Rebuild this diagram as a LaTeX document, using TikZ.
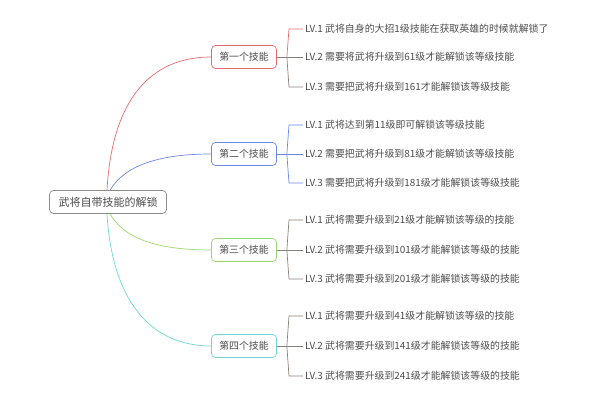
\documentclass[tikz,border=0pt]{standalone}
\usepackage{fontspec}
\setmainfont{Noto Sans CJK SC}
\begin{document}
\begin{tikzpicture}[x=1pt,y=-1pt,
  txt/.style={text=black!70,font=\fontsize{9.9}{11}\selectfont},
  box/.style={txt,draw=#1,rounded corners=4pt,line width=0.7pt,minimum height=23pt,inner xsep=6pt},
  leaf/.style={txt,anchor=west,inner xsep=2pt},
  br/.style={line width=0.7pt,draw=#1}]
\useasboundingbox (0,0) rectangle (608,406);
\node[box=black!45,minimum width=117pt,font=\fontsize{11}{12}\selectfont] (root) at (108,202) {武将自带技能的解锁};
\definecolor{c1}{HTML}{E86B6B}\definecolor{c2}{HTML}{6B87E8}\definecolor{c3}{HTML}{9AD86B}\definecolor{c4}{HTML}{6BD8D8}
\definecolor{gr}{HTML}{8A807A}
\node[box=c1,minimum width=65pt] (g1) at (244,57) {第一个技能};
\node[box=c2,minimum width=65pt] (g2) at (244,154) {第二个技能};
\node[box=c3,minimum width=65pt] (g3) at (244,250) {第三个技能};
\node[box=c4,minimum width=65pt] (g4) at (244,346) {第四个技能};
\draw[br=c1] (root.north) ++(-1,0) coordinate (r1) .. controls (112,100) and (150,57) .. (g1.west);
\draw[br=c2] (root.north) ++(2,0) coordinate (r2) .. controls (125,165) and (160,154) .. (g2.west);
\draw[br=c3] (root.south) ++(2,0) coordinate (r3) .. controls (125,240) and (160,250) .. (g3.west);
\draw[br=c4] (root.south) ++(-1,0) coordinate (r4) .. controls (112,300) and (150,346) .. (g4.west);
\foreach \g/\ya/\yb/\yc/\ca/\cb/\ta/\tb/\tc in {
 1/29/57/87/c1/gr/{LV.1 武将自身的大招1级技能在获取英雄的时候就解锁了}/{LV.2 需要将武将升级到61级才能解锁该等级技能}/{LV.3 需要把武将升级到161才能解锁该等级技能},
 2/125/154/183/c2/c2/{LV.1 武将达到第11级即可解锁该等级技能}/{LV.2 需要把武将升级到81级才能解锁该等级技能}/{LV.3 需要把武将升级到181级才能解锁该等级技能},
 3/220/250/279/gr/gr/{LV.1 武将需要升级到21级才能解锁该等级的技能}/{LV.2 武将需要升级到101级才能解锁该等级的技能}/{LV.3 武将需要升级到201级才能解锁该等级的技能},
 4/316/346/376/gr/gr/{LV.1 武将需要升级到41级才能解锁该等级的技能}/{LV.2 武将需要升级到141级才能解锁该等级的技能}/{LV.3 武将需要升级到241级才能解锁该等级的技能}}{
 \node[leaf] (l\g a) at (303,\ya) {\ta};
 \node[leaf] (l\g b) at (303,\yb) {\tb};
 \node[leaf] (l\g c) at (303,\yc) {\tc};
 \draw[br=\cb] (g\g.east) -- (l\g b.west);
 \draw[br=\ca] (g\g.east) ++(10,0) coordinate (s\g) -- (289,\ya) -- (l\g a.west);
 \draw[br=\cb] (s\g) -- (289,\yc) -- (l\g c.west);
}
\end{tikzpicture}
\end{document}
